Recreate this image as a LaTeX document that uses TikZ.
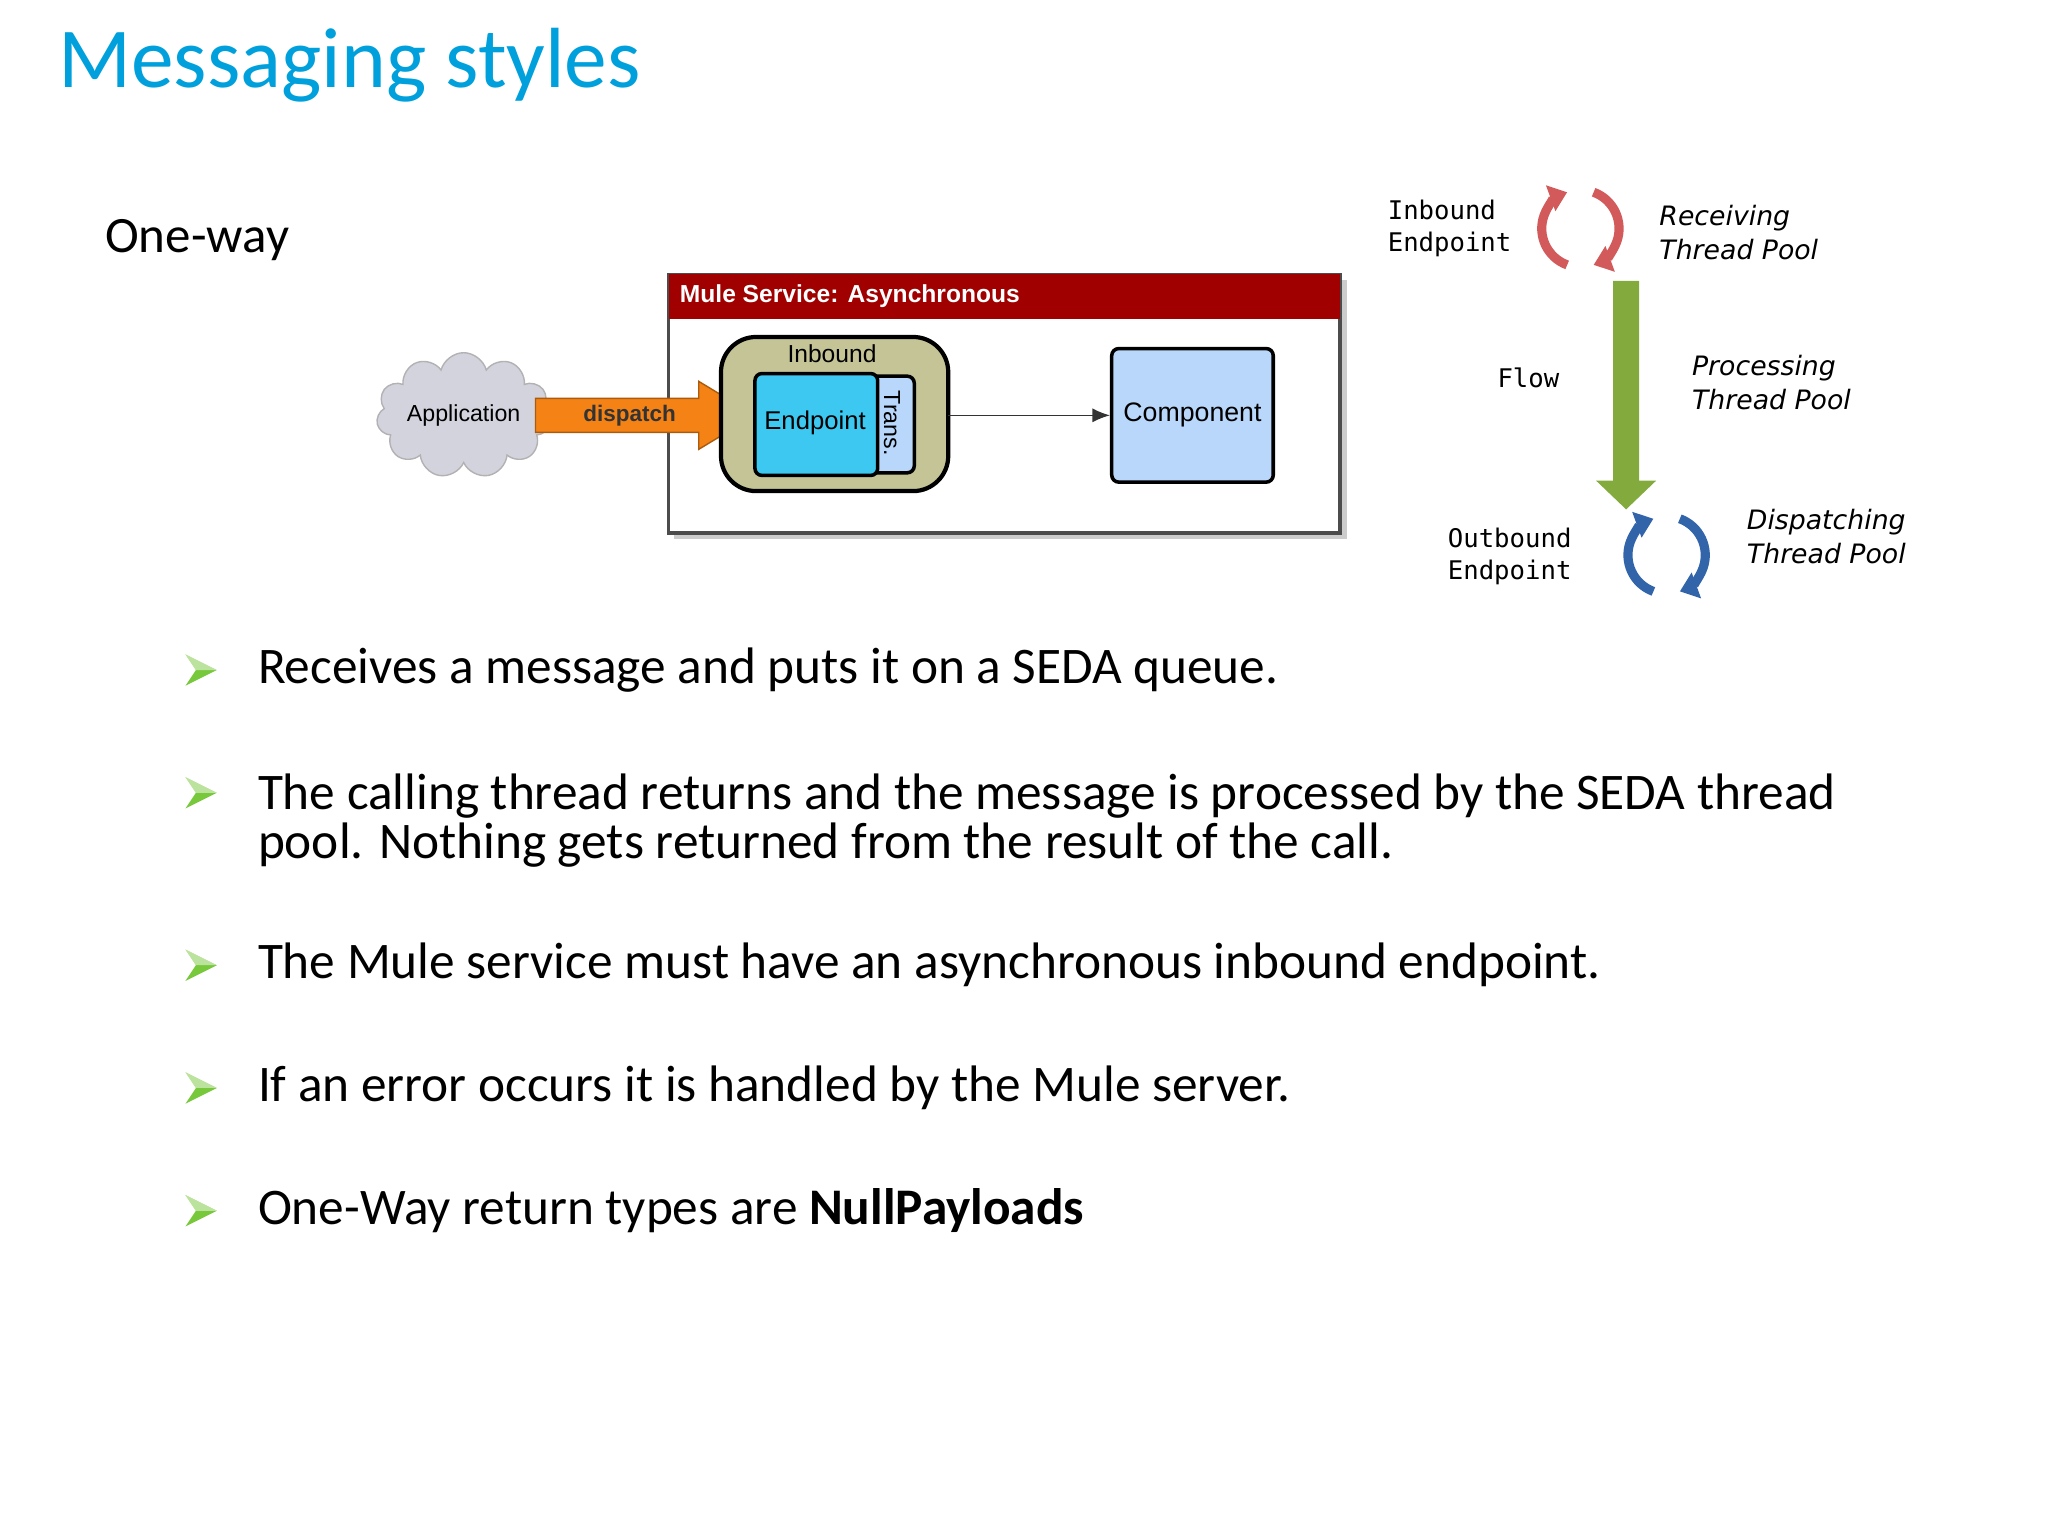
\documentclass[tikz,border=0pt]{standalone}
\usepackage{fontspec}
\setmainfont{Carlito}
\newfontfamily\arialf{Liberation Sans}
\newfontfamily\monof{DejaVu Sans Mono}
\newfontfamily\verdf{DejaVu Sans}
\usetikzlibrary{shapes.symbols,arrows.meta,calc}
\definecolor{titleblue}{RGB}{0,160,220}
\definecolor{mulered}{RGB}{160,0,0}
\definecolor{olivebox}{RGB}{196,196,150}
\definecolor{endcyan}{RGB}{60,200,240}
\definecolor{complblue}{RGB}{185,215,250}
\definecolor{orangearr}{RGB}{245,130,20}
\definecolor{bulgreen}{RGB}{120,200,60}
\definecolor{flowgreen}{RGB}{130,170,60}
\definecolor{recred}{RGB}{210,90,90}
\definecolor{disblue}{RGB}{50,100,170}
\tikzset{
 bullettxt/.style={anchor=west,font=\fontsize{14.6}{14}\selectfont,align=left,inner sep=0},
 mono/.style={font=\monof\fontsize{7.3}{9.3}\selectfont,align=left,anchor=west,inner sep=0},
 ital/.style={font=\verdf\itshape\fontsize{7.6}{9.8}\selectfont,align=left,anchor=west,inner sep=0},
 diag/.style={font=\arialf\fontsize{6.6}{8}\selectfont},
 circarr/.style={line width=2.6pt,-{Triangle[length=5pt,width=7.5pt]}},
}
\newcommand{\bulmark}[2]{\fill[bulgreen] (#1-12,#2-12) -- (#1+12,#2) -- (#1-12,#2+12) -- (#1-4,#2) -- cycle;
 \fill[white,opacity=0.5] (#1-12,#2-12) -- (#1+12,#2) -- (#1-4,#2) -- cycle;}
\begin{document}
\begin{tikzpicture}[x=0.013061cm,y=-0.013061cm]
\useasboundingbox (0,0) rectangle (1568,1176);
\fill[white] (0,0) rectangle (1568,1176);
\node[anchor=west,text=titleblue,font=\fontsize{24.3}{28}\selectfont,inner sep=0] (title) at (44,50) {Messaging styles};
\node[anchor=west,font=\fontsize{14.5}{17}\selectfont,inner sep=0] (oneway) at (80,184) {One-way};
% Mule diagram
\fill[gray!40] (516,214) rectangle (1031,413);
\draw[black!70,fill=white,line width=1pt] (512,210) rectangle (1026,408);
\fill[mulered] (512,210) rectangle (1026,244);
\node[anchor=west,text=white,font=\arialf\bfseries\fontsize{7}{8}\selectfont,inner sep=0] (mulet) at (520,227) {Mule Service: Asynchronous};
\node[cloud,cloud puffs=11,aspect=1.7,draw=gray!60,fill=blue!15!gray!30,minimum width=46pt,minimum height=30pt,inner sep=0,diag] (app) at (355,318) {Application};
\fill[orangearr,draw=orangearr!70!black] (410,305) -- (535,305) -- (535,292) -- (578,318) -- (535,344) -- (535,331) -- (410,331) -- cycle;
\node[font=\arialf\bfseries\fontsize{6.4}{8}\selectfont,text=black!80] (disp) at (482,318) {dispatch};
\draw[line width=1.2pt,fill=olivebox,rounded corners=10pt] (552,258) rectangle (726,376);
\node[font=\arialf\fontsize{7}{8}\selectfont] (inb) at (637,271) {Inbound};
\draw[line width=1pt,fill=complblue,rounded corners=2pt] (662,288) rectangle (700,362);
\node[diag,rotate=-90] (trans) at (683,324) {Trans.};
\draw[line width=1pt,fill=endcyan,rounded corners=2pt] (578,286) rectangle (672,364);
\node[font=\arialf\fontsize{7.3}{8}\selectfont] (endp) at (624,324) {Endpoint};
\node[draw,line width=1pt,fill=complblue,rounded corners=2pt,minimum width=44pt,minimum height=38pt,font=\arialf\fontsize{7.6}{8}\selectfont] (comp) at (913,318) {Component};
\coordinate (inbE) at (726,318);
\draw[-{Latex[length=5pt,width=4pt]},black!80] (inbE) -- (comp.west);
% Right thread diagram
\node[mono] (ie) at (1062,175) {Inbound\\Endpoint};
\node[ital] (rtp) at (1270,178) {Receiving\\Thread Pool};
\node[mono] (flow) at (1146,289) {Flow};
\node[ital] (ptp) at (1295,293) {Processing\\Thread Pool};
\node[mono] (oe) at (1108,426) {Outbound\\Endpoint};
\node[ital] (dtp) at (1337,411) {Dispatching\\Thread Pool};
\coordinate (rc) at (1210,175);
\draw[recred,circarr] ($(rc)+(250:11pt)$) arc (250:110:11pt);
\draw[recred,circarr] ($(rc)+(70:11pt)$) arc (70:-70:11pt);
\coordinate (bc) at (1276,425);
\draw[disblue,circarr] ($(bc)+(250:11pt)$) arc (250:110:11pt);
\draw[disblue,circarr] ($(bc)+(70:11pt)$) arc (70:-70:11pt);
\fill[flowgreen] (1235,215) -- (1255,215) -- (1255,368) -- (1268,368) -- (1245,390) -- (1222,368) -- (1235,368) -- cycle;
% bullets
\bulmark{154}{513}
\node[bullettxt] (b1) at (197,513) {Receives a message and puts it on a SEDA queue.};
\bulmark{154}{607}
\node[bullettxt,anchor=north west] (b2) at (197,592) {The calling thread returns and the message is processed by the SEDA thread\\pool. Nothing gets returned from the result of the call.};
\bulmark{154}{739}
\node[bullettxt] (b3) at (197,739) {The Mule service must have an asynchronous inbound endpoint.};
\bulmark{154}{833}
\node[bullettxt] (b4) at (197,833) {If an error occurs it is handled by the Mule server.};
\bulmark{154}{927}
\node[bullettxt] (b5) at (197,927) {One-Way return types are \textbf{NullPayloads}};
\end{tikzpicture}
\end{document}
